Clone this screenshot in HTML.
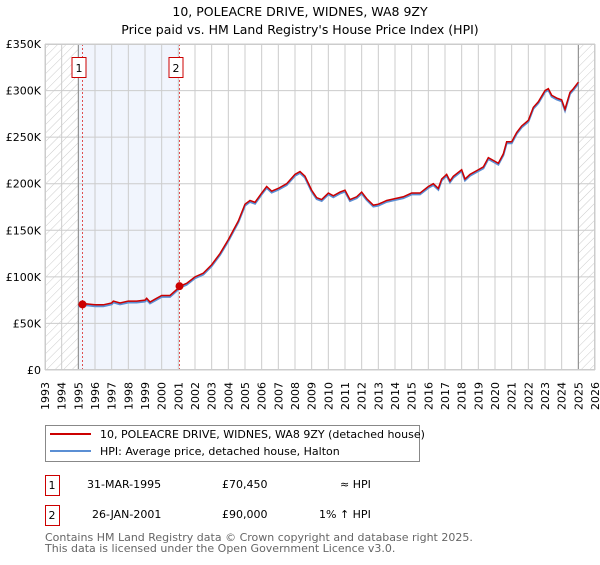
<!DOCTYPE html>
<html><head><meta charset="utf-8"><style>
body{margin:0;background:#fff;font-family:"Liberation Sans","DejaVu Sans",sans-serif;}
svg text{font-family:"DejaVu Sans","Liberation Sans",sans-serif;}
</style></head><body>
<svg id="c" width="600" height="560" xmlns="http://www.w3.org/2000/svg">
<defs><pattern id="h" width="6" height="6" patternUnits="userSpaceOnUse" patternTransform="rotate(45)"><line x1="0" y1="0" x2="0" y2="6" stroke="#ccc" stroke-width="1"/></pattern></defs>
<text x="300" y="16" text-anchor="middle" font-size="12.5">10, POLEACRE DRIVE, WIDNES, WA8 9ZY</text>
<text x="300" y="34" text-anchor="middle" font-size="12.5">Price paid vs. HM Land Registry's House Price Index (HPI)</text>
<g id="plot"></g>
<g>
<rect x="45.5" y="425.5" width="374" height="36" fill="#fff" stroke="#888"/>
<line x1="50" y1="434" x2="91" y2="434" stroke="#cc0000" stroke-width="2"/>
<text x="100" y="438" font-size="11">10, POLEACRE DRIVE, WIDNES, WA8 9ZY (detached house)</text>
<line x1="50" y1="451" x2="91" y2="451" stroke="#5b8fd4" stroke-width="2"/>
<text x="100" y="455" font-size="11">HPI: Average price, detached house, Halton</text>
</g>
<g font-size="11">
<rect x="45.5" y="475.5" width="14" height="20" fill="#fff" stroke="#cc0000"/><text x="52" y="489" text-anchor="middle">1</text>
<text x="87" y="488">31-MAR-1995</text><text x="222" y="488">£70,450</text><text x="340" y="488">≈ HPI</text>
<rect x="45.5" y="505.5" width="14" height="20" fill="#fff" stroke="#cc0000"/><text x="52" y="519" text-anchor="middle">2</text>
<text x="92" y="518">26-JAN-2001</text><text x="222" y="518">£90,000</text><text x="319" y="518">1% ↑ HPI</text>
</g>
<text x="45" y="541" font-size="11" fill="#666">Contains HM Land Registry data © Crown copyright and database right 2025.</text>
<text x="45" y="552" font-size="11" fill="#666">This data is licensed under the Open Government Licence v3.0.</text>
</svg>
<script>
const years=[1995.0,1995.25,1995.5,1996,1996.5,1997,1997.1,1997.5,1998,1998.5,1999,1999.1,1999.3,1999.6,2000,2000.5,2001,2001.1,2001.5,2002,2002.5,2003,2003.5,2004,2004.3,2004.6,2005,2005.3,2005.6,2006,2006.3,2006.6,2007,2007.5,2008,2008.3,2008.6,2009,2009.3,2009.6,2010,2010.3,2010.7,2011,2011.3,2011.7,2012,2012.3,2012.7,2013,2013.5,2014,2014.5,2015,2015.5,2016,2016.3,2016.6,2016.8,2017.1,2017.3,2017.5,2018,2018.2,2018.5,2019,2019.3,2019.6,2020,2020.2,2020.5,2020.7,2021,2021.3,2021.6,2022,2022.3,2022.6,2023,2023.2,2023.4,2023.7,2024,2024.2,2024.5,2024.7,2025];
const priceK=[70,70,71,70,70,72,74,72,74,74,75,77,73,76,80,80,88,90,93,100,104,113,125,140,150,160,178,182,180,190,197,192,195,200,210,213,208,193,185,183,190,187,191,193,183,186,191,184,177,178,182,184,186,190,190,197,200,195,205,210,203,208,215,205,210,215,218,228,224,222,232,245,245,255,262,268,282,288,300,302,295,292,290,280,298,302,309];
const hpiOffsetK=[1.5,1.5,1.5,1.5,1.5,1.5,1.5,1.5,1.5,1.5,1.5,1.5,1.5,1.5,1.5,1.5,1.5,1.5,1.5,1.5,1.5,1.5,1.5,1.5,1.5,1.5,1.5,1.5,1.5,1.5,1.5,1.5,1.5,1.5,1.5,1.5,1.5,1.5,1.5,1.5,1.5,1.5,1.5,1.5,1.5,1.5,1.5,1.5,1.5,1.5,1.5,1.5,1.5,1.5,1.5,1.5,1.5,1.5,1.5,1.5,1.5,1.5,1.5,1.5,1.5,1.5,1.5,1.5,1.5,1.5,1.5,1.5,1.5,1.5,1.5,1.5,1.5,1.5,1.5,1.5,1.5,1.5,1.5,1.5,1.5,1.5,1.5];
const yTicks=[0,50,100,150,200,250,300,350];
const yTickLabels=["£0","£50K","£100K","£150K","£200K","£250K","£300K","£350K"];
const sales=[{n:"1",t:1995.25,v:70.45},{n:"2",t:2001.07,v:90}];
const X0=45,X1=595,Y0=370,Y1=44,T0=1993,T1=2026,VMAX=350;
const xs=t=>X0+(t-T0)*(X1-X0)/(T1-T0);
const ys=v=>Y0-v*(Y0-Y1)/VMAX;
const NS="http://www.w3.org/2000/svg";
const g=document.getElementById('plot');
function mk(tag,at,parent){const e=document.createElementNS(NS,tag);for(const k in at)e.setAttribute(k,at[k]);(parent||g).appendChild(e);return e;}
let e;
e=mk('rect',{x:xs(1995),y:Y1,width:xs(sales[1].t)-xs(1995),height:Y0-Y1,fill:'#eef3fd',opacity:0.8});


e=mk('rect',{x:X0,y:Y1,width:xs(1995)-X0,height:Y0-Y1,fill:'url(#h)'});


e=mk('rect',{x:xs(2025),y:Y1,width:X1-xs(2025),height:Y0-Y1,fill:'url(#h)'});


for(let y=T0;y<=T1;y++){
 e=mk('line',{x1:xs(y),x2:xs(y),y1:Y1,y2:Y0,stroke:'#ccc','stroke-width':1});
 
 
 e=mk('text',{x:0,y:0,'font-size':11,'text-anchor':'end',transform:`translate(${xs(y)+4},${Y0+12}) rotate(-90)`});
 e.textContent=y;
 
 
}
yTicks.forEach((v,i)=>{
 e=mk('line',{x1:X0,x2:X1,y1:ys(v),y2:ys(v),stroke:'#ccc','stroke-width':1});
 
 
 e=mk('text',{x:X0-4,y:ys(v)+4,'font-size':11,'text-anchor':'end'});
 e.textContent=yTickLabels[i];
 
 
});
e=mk('line',{x1:xs(1995),x2:xs(1995),y1:Y1,y2:Y0,stroke:'#888'});


e=mk('line',{x1:xs(2025),x2:xs(2025),y1:Y1,y2:Y0,stroke:'#888'});


const hp=years.map((t,i)=>xs(t)+','+ys(priceK[i]-hpiOffsetK[i])).join(' ');
e=mk('polyline',{points:hp,fill:'none',stroke:'#5b8fd4','stroke-width':2});


const pp=years.map((t,i)=>xs(t)+','+ys(priceK[i])).join(' ');
e=mk('polyline',{points:pp,fill:'none',stroke:'#cc0000','stroke-width':1.5});


sales.forEach(s=>{
 e=mk('line',{x1:xs(s.t),x2:xs(s.t),y1:Y1,y2:Y0,stroke:'#e05050','stroke-dasharray':'2,2'});
 
 
 e=mk('circle',{cx:xs(s.t),cy:ys(s.v),r:4,fill:'#cc0000'});
 
 
 e=mk('rect',{x:xs(s.t)-10.5,y:57.5,width:14,height:20,fill:'#fff',stroke:'#cc0000'});
 
 
 e=mk('text',{x:xs(s.t)-3.5,y:72,'font-size':11,'text-anchor':'middle'});
 e.textContent=s.n;
 
 
});
e=mk('rect',{x:X0+0.5,y:Y1+0.5,width:X1-X0-1,height:Y0-Y1-1,fill:'none',stroke:'#ccc'});


</script>
</body></html>
